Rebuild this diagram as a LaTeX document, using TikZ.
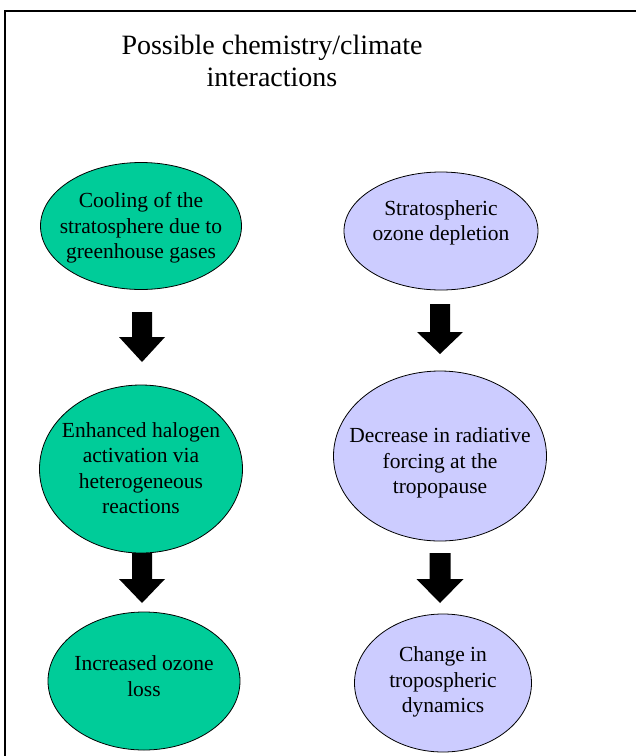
\documentclass[tikz,border=0pt]{standalone}
\usepackage{fontspec}
\setmainfont{Liberation Serif}
\usetikzlibrary{shapes.geometric}
\definecolor{coolgreen}{RGB}{0,204,153}
\definecolor{ozoneblue}{RGB}{204,204,255}
\tikzset{
  bubble/.style={ellipse, draw=black, line width=0.8pt, inner sep=0pt},
  greenbubble/.style={bubble, fill=coolgreen},
  bluebubble/.style={bubble, fill=ozoneblue},
  bubbletext/.style={align=center, font=\fontsize{21.5}{25.5}\selectfont, inner sep=0pt},
  titletext/.style={align=center, font=\fontsize{28}{32}\selectfont, inner sep=0pt},
  blockarrow/.style={fill=black, draw=none}
}
% downward block arrow: centre x, shaft top, head base, tip, shaft half width, head half width
\newcommand\blockdown[6]{%
  \fill[blockarrow] (#1-#5,#2) -- (#1+#5,#2) -- (#1+#5,#3) -- (#1+#6,#3)
    -- (#1,#4) -- (#1-#6,#3) -- (#1-#5,#3) -- cycle;}
\begin{document}
\begin{tikzpicture}[x=1pt,y=-1pt]
\useasboundingbox (0,0) rectangle (636,756);
\clip (0,0) rectangle (636,756);
\fill[white] (0,0) rectangle (636,756);
% frame
\draw[line width=2pt] (5,770) -- (5,11) -- (650,11);

% title
\node[titletext] (title) at (272,61) {Possible chemistry/climate\\interactions};

% left chain
\node[greenbubble, minimum width=201pt, minimum height=127pt] (cool) at (141,226) {};
\node[bubbletext] (coolT) at (141,228) {Cooling of the\\stratosphere due to\\greenhouse gases};
\node[greenbubble, minimum width=203pt, minimum height=168pt] (halo) at (141,469) {};
\node[bubbletext] (haloT) at (141,468) {Enhanced halogen\\activation via\\heterogeneous\\reactions};
\node[greenbubble, minimum width=192pt, minimum height=138pt] (loss) at (144,681) {};
\node[bubbletext] (lossT) at (144,676) {Increased ozone\\loss};

% right chain
\node[bluebubble, minimum width=194pt, minimum height=118pt] (depl) at (441,231) {};
\node[bubbletext] (deplT) at (441,223) {Stratospheric\\ozone depletion};
\node[bluebubble, minimum width=213pt, minimum height=170pt] (forc) at (440,456) {};
\node[bubbletext] (forcT) at (440,463) {Decrease in radiative\\forcing at the\\tropopause};
\node[bluebubble, minimum width=177pt, minimum height=138pt] (dyn) at (443,683) {};
\node[bubbletext] (dynT) at (443,682) {Change in\\tropospheric\\dynamics};

% block arrows between the bubbles
\blockdown{142}{312}{337}{362}{10}{23}
\blockdown{142}{553}{579}{603}{10}{23}
\blockdown{440}{304}{332}{354}{10}{23}
\blockdown{440}{553}{579}{603}{10.5}{23.5}
\end{tikzpicture}
\end{document}
